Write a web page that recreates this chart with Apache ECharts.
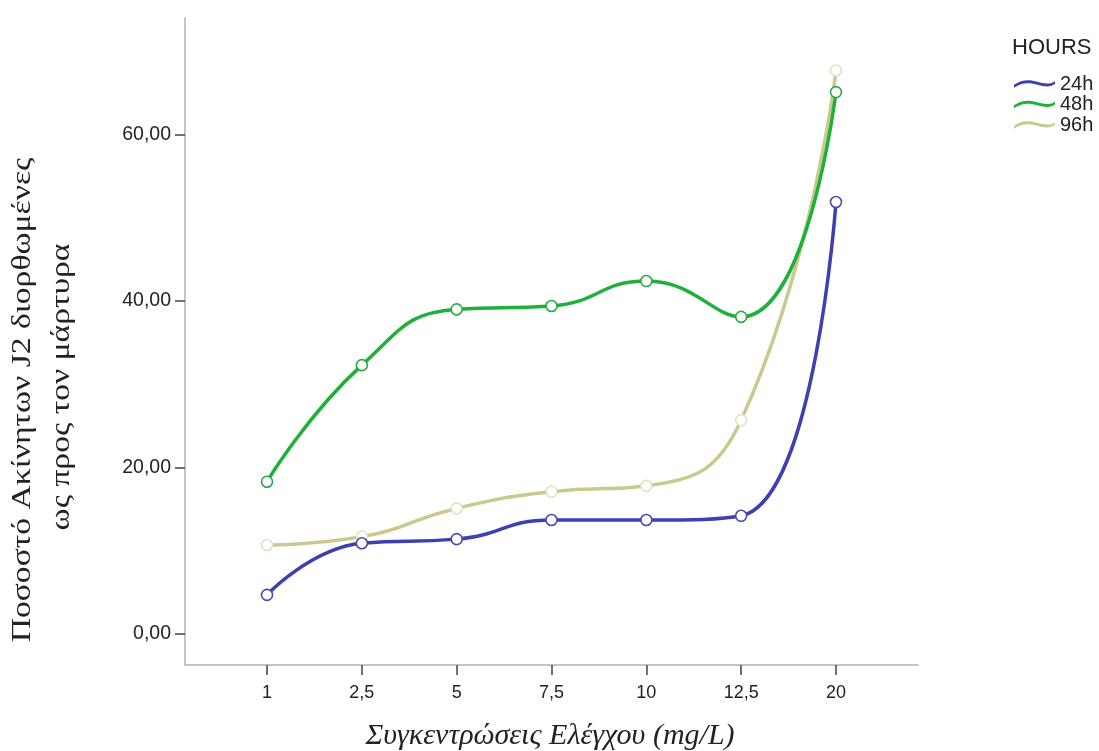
<!DOCTYPE html>
<html>
<head>
<meta charset="utf-8">
<script src="https://cdn.jsdelivr.net/npm/echarts@6/dist/echarts.min.js"></script>
<style>html,body{margin:0;padding:0;background:#fff;}#c{width:1099px;height:751px;}</style>
</head>
<body>
<div id="c"></div>
<script>
const categories = ['1', '2,5', '5', '7,5', '10', '12,5', '20'];
const yTicks = [0, 20, 40, 60];
const seriesNames = ['24h', '48h', '96h'];
const values24h = [4.7, 10.9, 11.4, 13.7, 13.7, 14.2, 51.9];
const values48h = [18.3, 32.3, 39.0, 39.4, 42.4, 38.1, 65.1];
const values96h = [10.7, 11.7, 15.1, 17.1, 17.8, 25.7, 67.7];
const colors = ['#3e3fb0', '#1db13a', '#c9c98d'];
const markerBorders = ['#4a4aa8', '#2aa844', '#e2e2c8'];
const allValues = [values24h, values48h, values96h];

const chart = echarts.init(document.getElementById('c'), null, {renderer: 'canvas'});
const waveIcon = 'path://M0,6 C8,0.5 16,0.5 24,3 C32,5.5 38,5.5 42,2 L42,5 C38,8.5 32,8.5 24,6 C16,3.5 8,3.5 0,9 Z';

const series = seriesNames.map((name, si) => ({
  name: name,
  type: 'line',
  data: allValues[si].map((v, i) => [i, v]),
  smooth: 0.5,
  symbol: 'circle',
  symbolSize: 11,
  lineStyle: {color: colors[si], width: 3.5},
  itemStyle: {color: '#ffffff', borderColor: markerBorders[si], borderWidth: 1.6},
  emphasis: {disabled: true},
  z: si === 2 ? 1 : 3
}));

const labelFont = {fontFamily: 'Liberation Sans, Arial', color: '#222'};

chart.setOption({
  backgroundColor: '#ffffff',
  animation: false,
  grid: {left: 185, right: 181, top: 18, bottom: 86},
  xAxis: {
    type: 'value',
    min: -0.865,
    max: 6.865,
    axisLine: {show: true, onZero: false, lineStyle: {color: '#c4c4c4', width: 2}},
    axisTick: {show: true, customValues: categories.map((c, i) => i), length: 10, inside: false, lineStyle: {color: '#444', width: 1.5}},
    axisLabel: Object.assign({show: true, customValues: categories.map((c, i) => i), formatter: v => categories[Math.round(v)], fontSize: 18, margin: 19}, labelFont),
    splitLine: {show: false}
  },
  yAxis: {
    type: 'value',
    min: -3.72,
    max: 74,
    axisLine: {show: true, onZero: false, lineStyle: {color: '#c4c4c4', width: 2}},
    axisTick: {show: true, customValues: yTicks, length: 10, lineStyle: {color: '#444', width: 1.5}},
    axisLabel: Object.assign({show: true, customValues: yTicks, formatter: v => v.toFixed(2).replace('.', ','), fontSize: 19.5, margin: 14}, labelFont),
    splitLine: {show: false}
  },
  legend: {
    data: seriesNames.map((n, i) => ({name: n, itemStyle: {color: colors[i], borderWidth: 0}})),
    orient: 'vertical',
    left: 1014,
    top: 74,
    padding: 0,
    icon: waveIcon,
    itemWidth: 41,
    itemHeight: 11,
    itemGap: 0.5,
    textStyle: Object.assign({fontSize: 20, lineHeight: 20}, labelFont),
    selectedMode: false
  },
  graphic: [
    {type: 'text', left: 1012, top: 37, style: {text: 'HOURS', font: '22px "Liberation Sans", Arial', fill: '#222'}},
    {type: 'text', x: 23, y: 400, rotation: Math.PI / 2, scaleX: 1.2, style: {text: 'Ποσοστό Ακίνητων J2 διορθωμένες', font: '28px "Liberation Serif", "DejaVu Serif", serif', fill: '#222', textAlign: 'center', textVerticalAlign: 'middle'}},
    {type: 'text', x: 62, y: 387, rotation: Math.PI / 2, scaleX: 1.2, style: {text: 'ως προς τον μάρτυρα', font: '28px "Liberation Serif", "DejaVu Serif", serif', fill: '#222', textAlign: 'center', textVerticalAlign: 'middle'}},
    {type: 'text', x: 550, y: 736, style: {text: 'Συγκεντρώσεις Ελέγχου (mg/L)', font: 'italic 30px "Liberation Serif", "DejaVu Serif", serif', fill: '#222', textAlign: 'center', textVerticalAlign: 'middle'}}
  ],
  series: series
});
</script>
</body>
</html>
